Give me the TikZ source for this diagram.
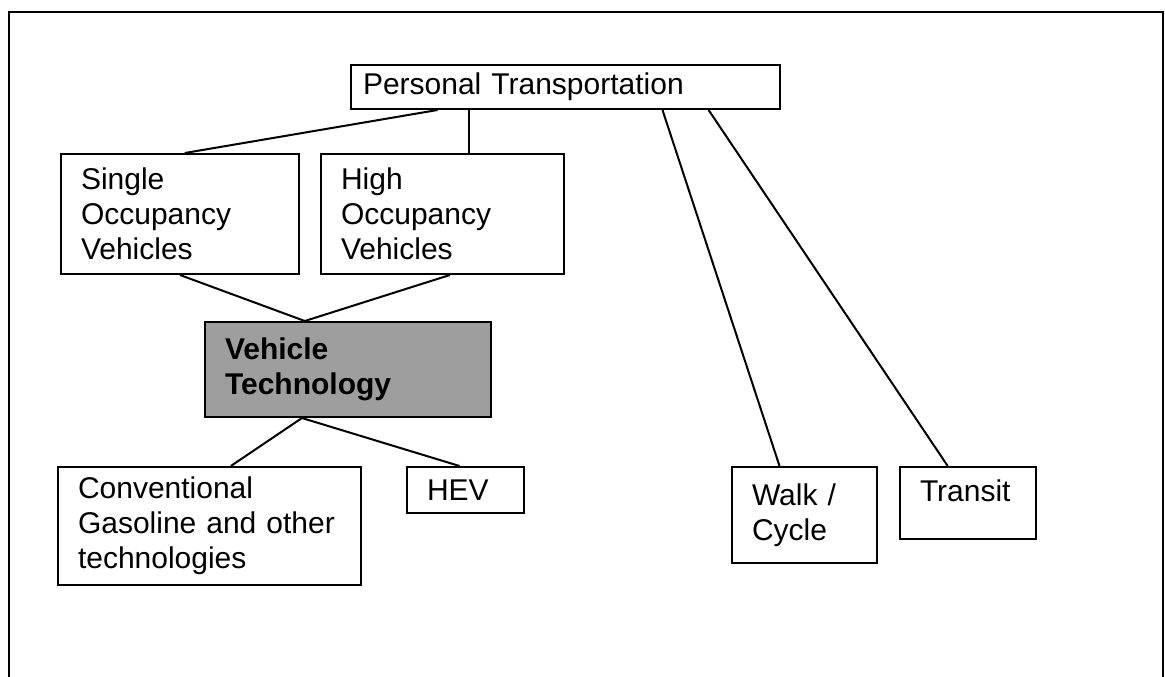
\documentclass[tikz,border=0pt]{standalone}
\usepackage{fontspec}
\setmainfont{Liberation Sans}
\usetikzlibrary{calc}

\begin{document}
\begin{tikzpicture}[x=0.5pt, y=-0.5pt,
    box/.style={draw=black, line width=1pt, anchor=north west, align=left,
                inner xsep=10pt, inner ysep=0pt,
                font=\fontsize{15pt}{17.5pt}\selectfont},
    link/.style={line width=1pt, black}]

\useasboundingbox (0,0) rectangle (1165,676);

%% ---- cornice ----
\draw[line width=1.3pt] (9,680) -- (9,12) -- (1163,12) -- (1163,680);

%% ---- livello 1 ----
\node[box, inner xsep=6pt, text width=202.5pt, minimum height=22pt]
    (pt) at (350,64) {Personal Transportation};

%% ---- livello 2 ----
\node[box, text width=99pt, minimum height=60pt]
    (sov) at (60,153) {Single\\Occupancy\\Vehicles};
\node[box, text width=101.5pt, minimum height=60pt]
    (hov) at (320,153) {High\\Occupancy\\Vehicles};

%% ---- tecnologia (riquadro grigio) ----
\node[box, fill=black!38, text width=123pt, minimum height=47.5pt,
      font=\fontsize{15pt}{17.5pt}\selectfont\bfseries]
    (vt) at (204,321) {Vehicle\\Technology};

%% ---- livello 3 ----
\node[box, text width=131.5pt, minimum height=59pt]
    (conv) at (57,466) {Conventional\\Gasoline and other\\technologies};
\node[box, text width=38.5pt, minimum height=23pt]
    (hev) at (406,466) {HEV};
\node[box, text width=52.5pt, minimum height=48pt]
    (walk) at (731,466) {Walk /\\Cycle};
\node[box, text width=48pt, minimum height=36pt, text depth=12pt]
    (transit) at (899,466) {Transit};

%% ---- collegamenti ----
\draw[link] ($(pt.south west)!0.203!(pt.south east)$) -- ($(sov.north west)!0.52!(sov.north east)$);
\coordinate (pth) at ($(pt.south west)!0.275!(pt.south east)$);
\draw[link] (pth) -- (pth |- hov.north);
\draw[link] ($(pt.south west)!0.725!(pt.south east)$) -- ($(walk.north west)!0.33!(walk.north east)$);
\draw[link] ($(pt.south west)!0.832!(pt.south east)$) -- ($(transit.north west)!0.353!(transit.north east)$);

\draw[link] ($(sov.south west)!0.5!(sov.south east)$) -- ($(vt.north west)!0.35!(vt.north east)$);
\draw[link] ($(hov.south west)!0.53!(hov.south east)$) -- ($(vt.north west)!0.35!(vt.north east)$);

\draw[link] ($(vt.south west)!0.34!(vt.south east)$) -- ($(conv.north west)!0.57!(conv.north east)$);
\draw[link] ($(vt.south west)!0.34!(vt.south east)$) -- ($(hev.north west)!0.45!(hev.north east)$);

\end{tikzpicture}
\end{document}
